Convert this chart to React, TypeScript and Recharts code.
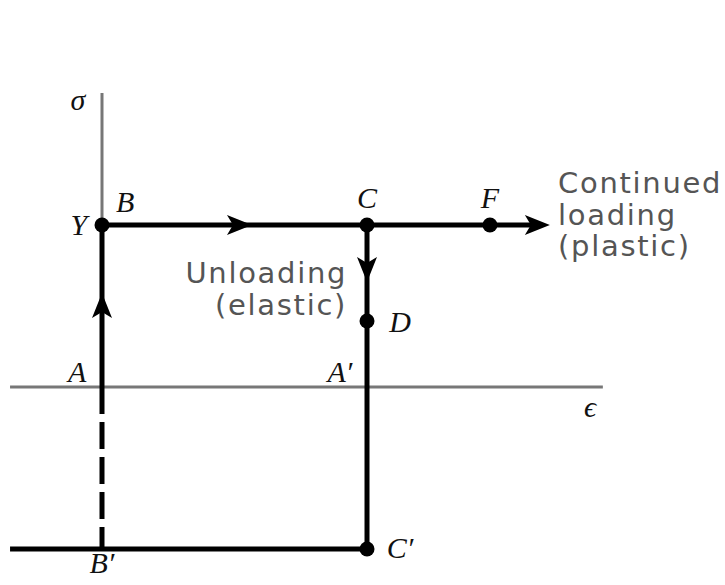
import { ComposedChart, Line, Scatter, XAxis, YAxis } from "recharts";

// strain ε and stress σ, scaled so that A→C = 1 (ε) and A→Y = 1 (σ)
const strainAxis = [{ e: -0.347, s: 0 }, { e: 1.89, s: 0 }];
const stressAxis = [{ e: 0, s: 1 }, { e: 0, s: 1.815 }];
const elasticLoad = [{ e: 0, s: 0 }, { e: 0, s: 1 }];
const plasticLoad = [{ e: 0, s: 1 }, { e: 1.64, s: 1 }];
const unloading = [{ e: 1, s: 1 }, { e: 1, s: -1 }];
const compression = [{ e: 0, s: 0 }, { e: 0, s: -1 }];
const reverseYield = [{ e: -0.347, s: -1 }, { e: 1, s: -1 }];

const points = [
  { name: "Y", e: 0, s: 1 },
  { name: "C", e: 1, s: 1 },
  { name: "F", e: 1.464, s: 1 },
  { name: "D", e: 1, s: 0.407 },
  { name: "C'", e: 1, s: -1 },
];

const arrows = [
  { e: 0.566, s: 1, dir: 0 },
  { e: 1.69, s: 1, dir: 0 },
  { e: 0, s: 0.58, dir: -90 },
  { e: 1, s: 0.648, dir: 90 },
];

const letters = [
  { text: "σ", e: -0.091, s: 1.71 },
  { text: "B", e: 0.087, s: 1.08 },
  { text: "Y", e: -0.087, s: 0.938 },
  { text: "C", e: 1.0, s: 1.105 },
  { text: "F", e: 1.464, s: 1.105 },
  { text: "D", e: 1.125, s: 0.34 },
  { text: "A", e: -0.094, s: 0.031 },
  { text: "A′", e: 0.898, s: 0.031 },
  { text: "ϵ", e: 1.842, s: -0.185 },
  { text: "B′", e: 0, s: -1.148 },
  { text: "C′", e: 1.125, s: -1.056 },
];

const notesRight = [
  { text: "Continued", e: 1.721, s: 1.198 },
  { text: "loading", e: 1.721, s: 1.0 },
  { text: "(plastic)", e: 1.721, s: 0.809 },
];

const notesLeft = [
  { text: "Unloading", e: 0.925, s: 0.642 },
  { text: "(elastic)", e: 0.925, s: 0.444 },
];

const Arrow = (p: any) => (
  <path
    d="M0,0 L-25,-10 L-19,0 L-25,10 Z"
    fill="#000"
    transform={`translate(${p.cx},${p.cy}) rotate(${p.payload.dir})`}
  />
);

const Dot = (p: any) => <circle cx={p.cx} cy={p.cy} r={7.5} fill="#000" />;

const Letter = (p: any) => (
  <text
    x={p.cx}
    y={p.cy}
    textAnchor="middle"
    fontFamily="'Liberation Serif', 'DejaVu Serif', serif"
    fontStyle="italic"
    fontSize={30}
    fill="#111"
  >
    {p.payload.text}
  </text>
);

const note = (anchor: string) => (p: any) => (
  <text
    x={p.cx}
    y={p.cy}
    textAnchor={anchor}
    fontFamily="'DejaVu Sans', sans-serif"
    fontSize={29}
    letterSpacing={1.7}
    fill="#555"
  >
    {p.payload.text}
  </text>
);

export default function App() {
  const line = (data: any[], color: string, width: number, dash?: string) => (
    <Line
      data={data}
      dataKey="s"
      stroke={color}
      strokeWidth={width}
      strokeDasharray={dash}
      dot={false}
      activeDot={false}
      isAnimationActive={false}
    />
  );
  return (
    <div style={{ position: "absolute", left: 0, top: 0, background: "#fff" }}>
      <ComposedChart width={725} height={585} margin={{ top: 0, right: 0, bottom: 0, left: 0 }}>
        <XAxis type="number" dataKey="e" domain={[-0.3849, 2.3509]} allowDataOverflow hide />
        <YAxis type="number" dataKey="s" domain={[-1.2222, 2.3889]} allowDataOverflow hide />
        {line(strainAxis, "#777", 3)}
        {line(stressAxis, "#777", 3)}
        {line(elasticLoad, "#000", 5)}
        {line(plasticLoad, "#000", 5)}
        {line(unloading, "#000", 5)}
        {line(compression, "#000", 5, "27 8")}
        {line(reverseYield, "#000", 5)}
        <Scatter data={arrows} shape={Arrow} isAnimationActive={false} />
        <Scatter data={points} shape={Dot} isAnimationActive={false} />
        <Scatter data={letters} shape={Letter} isAnimationActive={false} />
        <Scatter data={notesRight} shape={note("start")} isAnimationActive={false} />
        <Scatter data={notesLeft} shape={note("end")} isAnimationActive={false} />
      </ComposedChart>
    </div>
  );
}
